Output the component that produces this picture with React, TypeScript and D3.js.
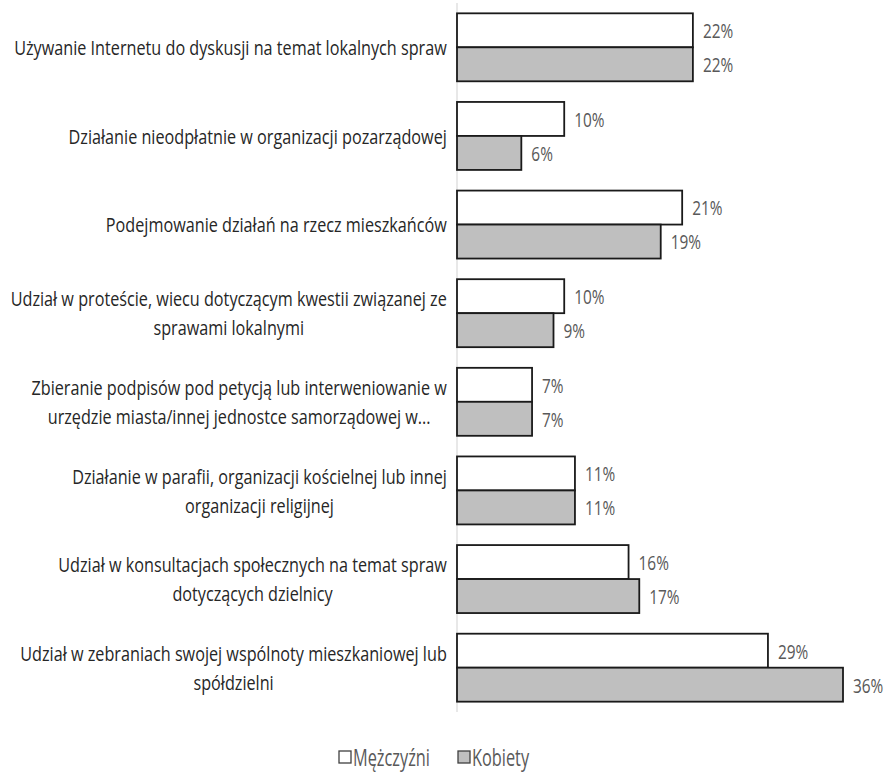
import React, { useEffect, useRef } from "react";
import * as d3 from "d3";

const categories: string[] = [
  "Używanie Internetu do dyskusji na temat lokalnych spraw",
  "Działanie nieodpłatnie w organizacji pozarządowej",
  "Podejmowanie działań na rzecz mieszkańców",
  "Udział w proteście, wiecu dotyczącym kwestii związanej ze\nsprawami lokalnymi",
  "Zbieranie podpisów pod petycją lub interweniowanie w\nurzędzie miasta/innej jednostce samorządowej w...",
  "Działanie w parafii, organizacji kościelnej lub innej\norganizacji religijnej",
  "Udział w konsultacjach społecznych na temat spraw\ndotyczących dzielnicy",
  "Udział w zebraniach swojej wspólnoty mieszkaniowej lub\nspółdzielni",
];
const seriesNames: string[] = ["Mężczyźni", "Kobiety"];
const men: number[] = [22, 10, 21, 10, 7, 11, 16, 29];
const women: number[] = [22, 6, 19, 9, 7, 11, 17, 36];
const seriesFills: string[] = ["#ffffff", "#bfbfbf"];

export default function App() {
  const ref = useRef<SVGSVGElement | null>(null);

  useEffect(() => {
    const svg = d3.select(ref.current);
    svg.selectAll("*").remove();

    const font = "'Open Sans', sans-serif";
    const fs = 20;
    const axisX = 457;
    const labelRight = 447;

    const x = d3.scaleLinear().domain([0, 36]).range([axisX, axisX + 386]);
    const y = d3
      .scaleBand<string>()
      .domain(categories)
      .range([3, 712])
      .paddingInner(0.233)
      .paddingOuter(0.1165);
    const inner = d3
      .scaleBand<string>()
      .domain(seriesNames)
      .range([0, y.bandwidth()]);

    const measure = (txt: string, size: number) => {
      const p = svg
        .append("text")
        .attr("font-family", font)
        .attr("font-size", size)
        .text(txt);
      const w = (p.node() as SVGTextElement).getComputedTextLength();
      p.remove();
      return w;
    };
    const sx = (labelRight - 14) / measure(categories[0], fs);

    // axis line
    svg
      .append("line")
      .attr("x1", axisX)
      .attr("x2", axisX)
      .attr("y1", 3)
      .attr("y2", 712)
      .attr("stroke", "#d9d9d9")
      .attr("stroke-width", 1.2);

    const rows = categories.map((c, i) => ({ c, vals: [men[i], women[i]] }));

    // bars
    rows.forEach((r) => {
      r.vals.forEach((v, si) => {
        const by = (y(r.c) as number) + (inner(seriesNames[si]) as number);
        svg
          .append("rect")
          .attr("x", x(0))
          .attr("y", by)
          .attr("width", x(v) - x(0))
          .attr("height", inner.bandwidth())
          .attr("fill", seriesFills[si])
          .attr("stroke", "#1a1a1a")
          .attr("stroke-width", 1.8);
        svg
          .append("text")
          .attr(
            "transform",
            `translate(${x(v) + 10},${by + inner.bandwidth() / 2}) scale(${sx * 0.95},1)`
          )
          .attr("font-family", font)
          .attr("font-size", fs)
          .attr("fill", "#595959")
          .attr("dominant-baseline", "central")
          .text(`${v}%`);
      });
    });

    // category labels
    rows.forEach((r) => {
      const lines = r.c.split("\n");
      const cy = (y(r.c) as number) + y.bandwidth() / 2;
      const lh = 29;
      const texts = lines.map((ln) =>
        svg
          .append("text")
          .attr("font-family", font)
          .attr("font-size", fs)
          .attr("fill", "#262626")
          .attr("dominant-baseline", "central")
          .attr("text-anchor", "middle")
          .text(ln)
      );
      const widths = texts.map(
        (t) => (t.node() as SVGTextElement).getComputedTextLength() * sx
      );
      const blockW = Math.max(...widths);
      const cx = labelRight - blockW / 2;
      texts.forEach((t, k) => {
        const ly = cy + (k - (lines.length - 1) / 2) * lh;
        t.attr("transform", `translate(${cx},${ly}) scale(${sx},1)`);
      });
    });

    // legend
    const legY = 757;
    const lfs = 23;
    const lsx = 77 / measure(seriesNames[0], lfs);
    const legend = svg.append("g");
    const items: { g: any; w: number }[] = [];
    seriesNames.forEach((name, si) => {
      const g = legend.append("g");
      g.append("rect")
        .attr("x", 0)
        .attr("y", -6)
        .attr("width", 12)
        .attr("height", 12)
        .attr("fill", seriesFills[si])
        .attr("stroke", "#404040")
        .attr("stroke-width", 1.3);
      const t = g
        .append("text")
        .attr("font-family", font)
        .attr("font-size", lfs)
        .attr("fill", "#595959")
        .attr("dominant-baseline", "central")
        .text(name);
      const tw = (t.node() as SVGTextElement).getComputedTextLength() * lsx;
      t.attr("transform", `translate(14,0) scale(${lsx},1)`);
      items.push({ g, w: 14 + tw });
    });
    const gap = 28;
    let cursor = 339;
    items.forEach((it) => {
      it.g.attr("transform", `translate(${cursor},${legY})`);
      cursor += it.w + gap;
    });
  }, []);

  return (
    <svg
      ref={ref}
      width={885}
      height={775}
      style={{ position: "absolute", left: 0, top: 0, background: "#fff" }}
    />
  );
}
